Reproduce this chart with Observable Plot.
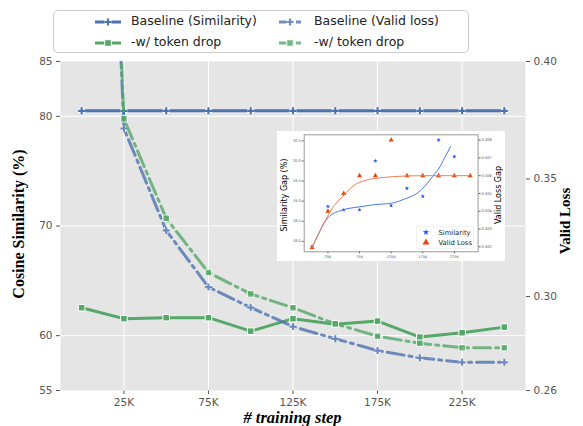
<!DOCTYPE html>
<html><head><meta charset="utf-8">
<script src="https://cdn.jsdelivr.net/npm/d3@7"></script>
<script src="https://cdn.jsdelivr.net/npm/@observablehq/plot@0.6"></script>
<style>
body{margin:0;background:#fff;}
#fig{position:relative;width:583px;height:426px;overflow:hidden;font-family:"DejaVu Sans",sans-serif;background:#fff;}
.layer{position:absolute;}
.lab{position:absolute;font-family:"Liberation Serif","Times New Roman",serif;font-weight:bold;color:#000;white-space:nowrap;}
.leg{position:absolute;left:53px;top:10px;width:416px;height:43px;border:1px solid #cccccc;border-radius:5px;background:#fff;box-sizing:border-box;}
.lt{position:absolute;font-size:12.5px;color:#222;white-space:nowrap;line-height:1;}
.ilegbox{position:absolute;left:416px;top:226px;width:58px;height:23px;background:#fff;border:1px solid #f2f2f2;border-radius:2px;box-sizing:border-box;}
.ilt{position:absolute;font-size:6.8px;color:#222;white-space:nowrap;line-height:1;}
.ilab{position:absolute;font-size:8px;color:#000;white-space:nowrap;line-height:1;}
</style></head><body><div id="fig"></div>
<script>
// ---------- main chart data ----------
const steps = [0, 25, 50, 75, 100, 125, 150, 175, 200, 225, 250];
const stepTicks = [25, 75, 125, 175, 225];
const simTicks = [55, 60, 70, 80, 85];
const lossTicks = [0.26, 0.30, 0.35, 0.40];
const baselineSim = [80.5, 80.5, 80.5, 80.5, 80.5, 80.5, 80.5, 80.5, 80.5, 80.5, 80.5];
const dropSim = [62.55, 61.55, 61.64, 61.64, 60.41, 61.55, 61.05, 61.33, 59.87, 60.27, 60.78];
const baselineLoss = [0.80, 0.3715, 0.3281, 0.3040, 0.2953, 0.2872, 0.2820, 0.2770, 0.2739, 0.2720, 0.2720];
const dropLoss = [0.82, 0.3756, 0.3333, 0.3102, 0.3011, 0.2952, 0.2884, 0.2831, 0.2801, 0.2782, 0.2782];
const legendLabels = ["Baseline (Similarity)", "Baseline (Valid loss)", "-w/ token drop", "-w/ token drop"];

// ---------- inset data ----------
const gapSteps = [0, 25, 50, 75, 100, 125, 150, 175, 200, 225];
const simGap = [17.87, 18.87, 18.78, 18.78, 20.0, 18.89, 19.32, 19.12, 20.52, 20.11];
const lossGap = [0.00196, 0.0040, 0.0050, 0.0060, 0.0060, 0.0080, 0.0060, 0.0060, 0.0060, 0.0060, 0.0060];
const simFitX = [0, 10, 18, 26, 44, 76, 97, 126, 146, 168, 178, 194, 200, 210, 219];
const simFitY = [17.85, 18.18, 18.43, 18.60, 18.76, 18.86, 18.91, 18.95, 19.05, 19.22, 19.37, 19.68, 19.80, 20.09, 20.36];
const lossFitX = [0, 18, 31, 51, 65, 86, 113, 129, 175, 250];
const lossFitY = [0.00196, 0.00328, 0.00412, 0.00493, 0.00543, 0.00575, 0.00590, 0.00595, 0.00600, 0.00600];
const insetSimTicks = [18.0, 18.5, 19.0, 19.5, 20.0, 20.5];
const insetLossTicks = [0.002, 0.003, 0.004, 0.005, 0.006, 0.007, 0.008];

const BLUE = "#4C72B0", GREEN = "#55A868";
const DASHDOT = "17,5,3,5";

const main = steps.map((s, i) => ({step: s, bs: baselineSim[i], ds: dropSim[i], bl: baselineLoss[i], dl: dropLoss[i]}));
const fig = document.getElementById("fig");
const kfmt = d => d + "K";
const W = 583, H = 426;
const mM = {marginLeft: 60, marginRight: 58, marginTop: 61, marginBottom: 36};
const xMain = {domain: [-12.5, 262.5], ticks: stepTicks, tickFormat: kfmt, tickSize: 4, tickPadding: 4, label: null};

function place(el, left, top) { el.classList.add("layer"); el.style.left = left + "px"; el.style.top = top + "px"; fig.appendChild(el); }

function plusDots(data, x, y, color, extra = {}) {
  return [
    Plot.dot(data, {x, y, symbol: "plus", r: 2.4, stroke: "white", strokeWidth: 4.2, clip: true, ...extra}),
    Plot.dot(data, {x, y, symbol: "plus", r: 2.4, stroke: color, strokeWidth: 2.2, clip: true, ...extra})
  ];
}
function squareDots(data, x, y, color, extra = {}) {
  return Plot.dot(data, {x, y, symbol: "square", r: 3.7, fill: color, stroke: "white", strokeWidth: 1, clip: true, ...extra});
}

// Layer A: similarity (left axis)
const A = Plot.plot({
  width: W, height: H, ...mM,
  style: {background: "transparent", fontFamily: "DejaVu Sans", fontSize: "10.5px", color: "#555"},
  x: xMain,
  y: {domain: [55, 85], ticks: simTicks, tickSize: 4, tickPadding: 4, label: null},
  marks: [
    Plot.frame({fill: "#e5e5e5", stroke: "none"}),
    Plot.ruleY([60, 70, 80], {stroke: "white", strokeWidth: 1}),
    Plot.ruleX(stepTicks, {stroke: "white", strokeWidth: 1}),
    Plot.line(main, {x: "step", y: "bs", stroke: BLUE, strokeWidth: 3, clip: true}),
    ...plusDots(main, "step", "bs", BLUE),
    Plot.line(main, {x: "step", y: "ds", stroke: GREEN, strokeWidth: 3, clip: true}),
    squareDots(main, "step", "ds", GREEN)
  ]
});
place(A, 0, 0);

// Layer B: valid loss (right axis)
const B = Plot.plot({
  width: W, height: H, ...mM,
  style: {background: "transparent", fontFamily: "DejaVu Sans", fontSize: "10.5px", color: "#555"},
  x: {...xMain, axis: null},
  y: {domain: [0.26, 0.40], ticks: lossTicks, tickFormat: ".2f", axis: "right", tickSize: 4, tickPadding: 4, label: null},
  marks: [
    Plot.line(main, {x: "step", y: "bl", stroke: BLUE, strokeWidth: 3, strokeDasharray: DASHDOT, opacity: 0.8, clip: true}),
    ...plusDots(main, "step", "bl", BLUE, {opacity: 0.8}),
    Plot.line(main, {x: "step", y: "dl", stroke: GREEN, strokeWidth: 3, strokeDasharray: DASHDOT, opacity: 0.8, clip: true}),
    squareDots(main, "step", "dl", GREEN, {opacity: 0.8})
  ]
});
place(B, 0, 0);

// axis titles
function label(text, cx, cy, size, rot, italic) {
  const d = document.createElement("div");
  d.className = "lab"; d.textContent = text;
  d.style.fontSize = size + "px";
  if (italic) d.style.fontStyle = "italic";
  d.style.left = cx + "px"; d.style.top = cy + "px";
  d.style.transform = `translate(-50%,-50%) rotate(${rot}deg)`;
  fig.appendChild(d);
}
label("Cosine Similarity (%)", 18.5, 224, 16, -90);
label("Valid Loss", 565, 221, 15, -90);
label("# training step", 292.5, 418, 16.5, 0, true);

// legend
const leg = document.createElement("div"); leg.className = "leg"; fig.appendChild(leg);
function legSample(x1, x2, y, color, dash, marker, op) {
  const ns = "http://www.w3.org/2000/svg";
  const s = document.createElementNS(ns, "svg");
  s.setAttribute("width", 40); s.setAttribute("height", 16);
  s.style.position = "absolute"; s.style.left = (x1 - 53 - 2) + "px"; s.style.top = (y - 10 - 8) + "px"; s.style.opacity = op;
  const L = x2 - x1, m = L / 2 + 2;
  let html = `<line x1="2" y1="8" x2="${L + 2}" y2="8" stroke="${color}" stroke-width="3" ${dash ? `stroke-dasharray="${dash}"` : ""}/>`;
  if (marker === "plus") html += `<path d="M${m - 3.6},8H${m + 3.6}M${m},4.4V11.6" stroke="white" stroke-width="4.2"/><path d="M${m - 3.6},8H${m + 3.6}M${m},4.4V11.6" stroke="${color}" stroke-width="2.2"/>`;
  else html += `<rect x="${m - 3.3}" y="4.7" width="6.6" height="6.6" fill="${color}" stroke="white" stroke-width="1"/>`;
  s.innerHTML = html; leg.appendChild(s);
}
function legText(t, x, y) { const d = document.createElement("div"); d.className = "lt"; d.textContent = t; d.style.left = (x - 53) + "px"; d.style.top = (y - 10 - 7) + "px"; leg.appendChild(d); }
legSample(94, 120, 20.7, BLUE, null, "plus", 1);
legText(legendLabels[0], 130, 20.7);
legSample(278, 300, 20.7, BLUE, "9,3,2,3", "plus", 0.8);
legText(legendLabels[1], 313, 20.7);
legSample(94, 120, 41.7, GREEN, null, "square", 1);
legText(legendLabels[2], 130, 41.7);
legSample(278, 300, 41.7, GREEN, "9,3,2,3", "square", 0.8);
legText(legendLabels[3], 313, 41.7);

// ---------- inset ----------
const IX = 276.7, IY = 130.7, IW = 228.3, IH = 130;
const bg = document.createElement("div");
bg.style.cssText = `position:absolute;left:${IX}px;top:${IY}px;width:${IW}px;height:${IH}px;background:#fff;`;
fig.appendChild(bg);
const iM = {marginLeft: 26.7, marginRight: 27.7, marginTop: 3.3, marginBottom: 9.7};
const xIn = {domain: [-12.5, 262.5], ticks: stepTicks, tickFormat: kfmt, tickSize: 2, tickPadding: 1.5, label: null};
const simPts = gapSteps.map((s, i) => ({s, v: simGap[i]}));
const lossPts = steps.map((s, i) => ({s, v: lossGap[i]}));
const simFit = simFitX.map((s, i) => ({s, v: simFitY[i]}));
const lossFit = lossFitX.map((s, i) => ({s, v: lossFitY[i]}));
const C1 = Plot.plot({
  width: IW, height: IH, ...iM,
  style: {background: "transparent", fontFamily: "DejaVu Sans", fontSize: "3.6px", color: "#555"},
  x: xIn,
  y: {domain: [17.74, 20.65], ticks: insetSimTicks, tickFormat: ".1f", tickSize: 2, tickPadding: 1.5, label: null},
  marks: [
    Plot.frame({stroke: "#999", strokeWidth: 1}),
    Plot.dot(simPts, {x: "s", y: "v", symbol: "star", r: 1.4, fill: "#1f4ff2", stroke: "none"}),
    Plot.line(simFit, {x: "s", y: "v", stroke: "#4a74f5", strokeWidth: 1, curve: "monotone-x"})
  ]
});
place(C1, IX, IY);
const C2 = Plot.plot({
  width: IW, height: IH, ...iM,
  style: {background: "transparent", fontFamily: "DejaVu Sans", fontSize: "3.6px", color: "#555"},
  x: {...xIn, axis: null},
  y: {domain: [0.00172, 0.0083], ticks: insetLossTicks, tickFormat: ".3f", axis: "right", tickSize: 2, tickPadding: 1.5, label: null},
  marks: [
    Plot.dot(lossPts, {x: "s", y: "v", symbol: "triangle", r: 1.9, fill: "#e8470f", stroke: "none"}),
    Plot.line(lossFit, {x: "s", y: "v", stroke: "#f27c52", strokeWidth: 1, curve: "monotone-x"})
  ]
});
place(C2, IX, IY);
function ilab(text, cx, cy, rot) {
  const d = document.createElement("div"); d.className = "ilab"; d.textContent = text;
  d.style.left = cx + "px"; d.style.top = cy + "px";
  d.style.transform = `translate(-50%,-50%) rotate(${rot}deg)`; fig.appendChild(d);
}
ilab("Similarity Gap (%)", 285, 195, -90);
ilab("Valid Loss Gap", 498.5, 195, -90);
// inset legend
const il = document.createElement("div"); il.className = "ilegbox"; fig.appendChild(il);
const ns = "http://www.w3.org/2000/svg";
const isv = document.createElementNS(ns, "svg");
isv.setAttribute("width", 58); isv.setAttribute("height", 23);
isv.style.position = "absolute"; isv.style.left = "-1px"; isv.style.top = "-1px";
const star = d3.symbol(d3.symbolStar, Math.PI * 2.0 * 2.0)();
const tri = d3.symbol(d3.symbolTriangle, Math.PI * 2.6 * 2.6)();
isv.innerHTML = `<path transform="translate(10,6.3)" d="${star}" fill="#1f4ff2"/><path transform="translate(10,16.5)" d="${tri}" fill="#e8470f"/>`;
il.appendChild(isv);
[["Similarity", 2.5], ["Valid Loss", 12.7]].forEach(([t, y]) => { const d = document.createElement("div"); d.className = "ilt"; d.textContent = t; d.style.left = "21.5px"; d.style.top = y + "px"; il.appendChild(d); });
</script></body></html>
